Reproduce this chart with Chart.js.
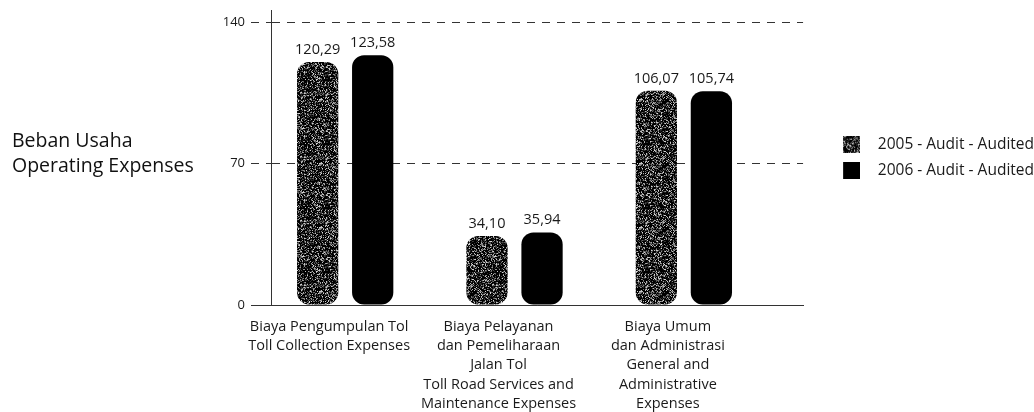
<!DOCTYPE html>
<html>
<head>
<meta charset="utf-8">
<title>Beban Usaha</title>
<script src="https://cdn.jsdelivr.net/npm/chart.js@4.4.0/dist/chart.umd.min.js"></script>
<style>
  html, body { margin: 0; padding: 0; background: #fff; }
  #wrap { position: relative; width: 1034px; height: 412px; }
  #yTitle {
    position: absolute; left: 12px; top: 128px;
    font: 19.5px 'Open Sans', sans-serif; line-height: 24.5px; color: #111;
  }
</style>
</head>
<body>
<div id="wrap">
  <canvas id="opexChart" width="1034" height="412"></canvas>
  <div id="yTitle">Beban Usaha<br>Operating Expenses</div>
</div>
<script>
const categories = [
    ['Biaya Pengumpulan Tol', 'Toll Collection Expenses'],
    ['Biaya Pelayanan', 'dan Pemeliharaan', 'Jalan Tol', 'Toll Road Services and', 'Maintenance Expenses'],
    ['Biaya Umum', 'dan Administrasi', 'General and', 'Administrative', 'Expenses']
];
const seriesNames = ['2005 - Audit - Audited', '2006 - Audit - Audited'];
const values2005 = [120.29, 34.10, 106.07];
const values2006 = [123.58, 35.94, 105.74];
const yTicks = [0, 70, 140];

const FONT = "'Open Sans', sans-serif";
const INK = '#1a1a1a';

// grainy grey tile used for the 2005 bars (skewed towards dark pixels)
function makeSpeckle(w, h) {
    const c = document.createElement('canvas');
    c.width = w; c.height = h;
    const g = c.getContext('2d');
    const img = g.createImageData(w, h);
    for (let i = 0; i < w * h; i++) {
        let n = Math.imul(i + 17, 2654435761) >>> 0;
        n ^= n >>> 15;
        n = Math.imul(n, 2246822519) >>> 0;
        n ^= n >>> 13;
        const t = (n % 1000) / 1000;
        const v = Math.round(20 + 200 * Math.pow(t, 1.4));
        img.data[i * 4] = img.data[i * 4 + 1] = img.data[i * 4 + 2] = v;
        img.data[i * 4 + 3] = 255;
    }
    g.putImageData(img, 0, 0);
    return c;
}

const speckleTile = makeSpeckle(64, 64);
const ctx = document.getElementById('opexChart').getContext('2d');
const specklePattern = ctx.createPattern(speckleTile, 'repeat');

// legend swatch: square on the right side of a wider transparent image
function makeSwatch(fill) {
    const c = document.createElement('canvas');
    c.width = 36; c.height = 17;
    const g = c.getContext('2d');
    g.fillStyle = fill;
    g.fillRect(19, 0, 17, 17);
    return c;
}

const valueLabels = {
    id: 'valueLabels',
    afterDatasetsDraw(chart) {
        const c = chart.ctx;
        c.save();
        c.font = '14.5px ' + FONT;
        c.fillStyle = INK;
        c.textAlign = 'center';
        c.textBaseline = 'bottom';
        chart.data.datasets.forEach((ds, i) => {
            chart.getDatasetMeta(i).data.forEach((bar, j) => {
                const txt = ds.data[j].y.toFixed(2).replace('.', ',');
                c.fillText(txt, bar.x, bar.y - 5);
            });
        });
        c.restore();
    }
};

// legend text should run to the right edge, so drop the trailing padding
const legendTrim = {
    id: 'legendTrim',
    beforeInit(chart) {
        const fit = chart.legend.fit;
        chart.legend.fit = function () {
            fit.call(this);
            this.width -= 10;
        };
    }
};

const dashFor = (c) => (c.tick && c.tick.value === 0 ? [] : [8, 7]);

new Chart(ctx, {
    type: 'bar',
    data: {
        datasets: [
            {
                label: seriesNames[0],
                data: values2005.map((v, i) => ({ x: i, y: v })),
                backgroundColor: specklePattern,
                pointStyle: makeSwatch(specklePattern)
            },
            {
                label: seriesNames[1],
                data: values2006.map((v, i) => ({ x: i, y: v })),
                backgroundColor: '#000',
                pointStyle: makeSwatch('#000')
            }
        ]
    },
    options: {
        responsive: false,
        animation: false,
        categoryPercentage: 0.65,
        barPercentage: 0.75,
        borderRadius: 12,
        borderSkipped: false,
        layout: { padding: { left: 0, top: 10, bottom: 0, right: 0 } },
        scales: {
            x: {
                type: 'linear',
                offset: false,
                min: -0.438,
                max: 2.704,
                afterBuildTicks: (scale) => {
                    scale.ticks = categories.map((_, i) => ({ value: i }));
                },
                afterFit: (scale) => {
                    scale.height = 107;
                    scale.paddingLeft = 0;
                    scale.paddingRight = 0;
                },
                grid: { display: false, drawTicks: false },
                border: { display: true, color: '#333', width: 1 },
                ticks: {
                    callback: (v, i) => categories[i],
                    maxRotation: 0,
                    autoSkip: false,
                    padding: 12,
                    labelOffset: -16,
                    color: INK,
                    font: { family: FONT, size: 14.5, lineHeight: 1.33 }
                }
            },
            y: {
                min: 0,
                max: 146,
                afterBuildTicks: (scale) => {
                    scale.ticks = yTicks.map(v => ({ value: v }));
                },
                afterFit: (scale) => {
                    // room on the left for the axis caption
                    scale.width = 271;
                    scale.paddingTop = 0;
                    scale.paddingBottom = 0;
                },
                grid: {
                    color: '#333',
                    lineWidth: 1,
                    tickLength: 20,
                    tickColor: '#333',
                    tickBorderDash: dashFor
                },
                border: { display: true, color: '#333', width: 1, dash: dashFor },
                ticks: {
                    padding: 6,
                    color: INK,
                    font: { family: FONT, size: 13 }
                }
            }
        },
        plugins: {
            legend: {
                position: 'right',
                fullSize: false,
                labels: {
                    usePointStyle: true,
                    pointStyleWidth: 56,
                    boxHeight: 14,
                    padding: 11,
                    color: INK,
                    font: { family: FONT, size: 15.5 }
                }
            },
            tooltip: { enabled: false }
        }
    },
    plugins: [valueLabels, legendTrim]
});
</script>
</body>
</html>
